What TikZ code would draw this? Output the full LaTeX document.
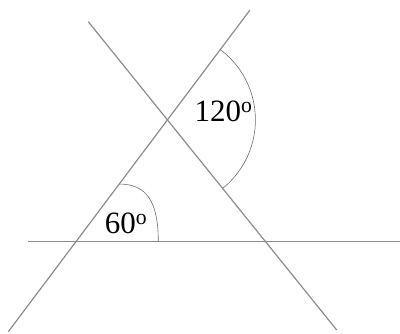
\documentclass[tikz,border=0pt]{standalone}
\usepackage{fontspec}
\setmainfont{Liberation Serif}
\usetikzlibrary{calc}
\definecolor{linegray}{RGB}{140,140,140}
\definecolor{arcgray}{RGB}{110,110,110}
\begin{document}
\begin{tikzpicture}[x=1pt,y=1pt,
  mainline/.style={draw=linegray,line width=1.2pt},
  anglearc/.style={draw=arcgray,line width=0.6pt},
  anglelabel/.style={anchor=base,inner sep=0pt,font=\fontsize{31}{36}\selectfont,text=black}]
\useasboundingbox (0,0) rectangle (400,334);
% end points of the three lines
\coordinate (A) at (8.3,2.3);
\coordinate (B) at (250,324);
\coordinate (C) at (88.3,312.3);
\coordinate (D) at (336.7,4);
\coordinate (E) at (28,92.3);
\coordinate (F) at (400,92.3);
\coordinate (Q) at (intersection of A--B and C--D);
\coordinate (S) at ($(A)!0.459!(B)$);
\coordinate (T) at (158.3,92.3);
\draw[mainline] (E) -- (F);
\draw[mainline] (A) -- (B);
\draw[mainline] (C) -- (D);
% 60 degree arc
\draw[anglearc] (S) .. controls ($(S)+(27.2,0)$) and ($(T)+(0,40.4)$) .. (T);
% 120 degree arc
\draw[anglearc] ([shift={(-51.2:88)}]Q) arc[start angle=-51.2,end angle=53,radius=88];
\node[anglelabel] (l60) at (126,100.7) {60\textsuperscript{o}};
\node[anglelabel] (l120) at (223.5,212.3) {120\textsuperscript{o}};
\end{tikzpicture}
\end{document}
